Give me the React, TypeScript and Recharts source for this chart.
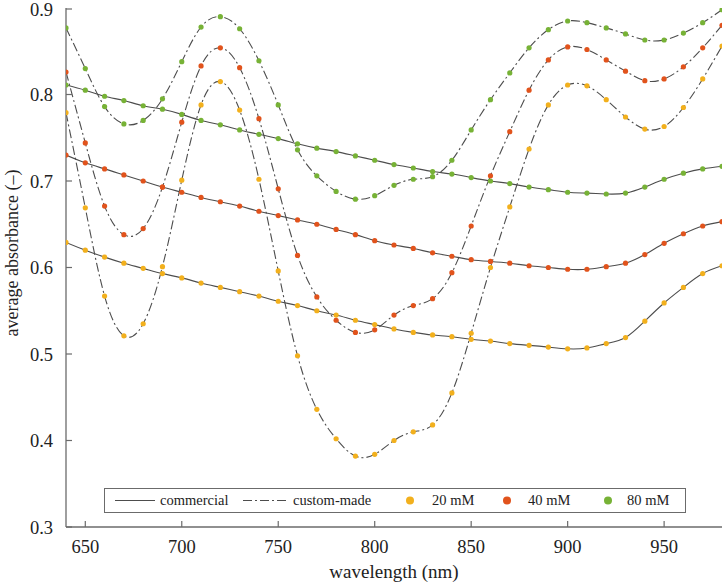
import { LineChart, Line, XAxis, YAxis } from "recharts";

const wavelengths = [
  640, 650, 660, 670, 680, 690, 700, 710, 720, 730, 740, 750, 760, 770, 780, 790, 800, 810,
  820, 830, 840, 850, 860, 870, 880, 890, 900, 910, 920, 930, 940, 950, 960, 970, 980,
];

// commercial (solid)
const commercial20 = [
  0.629, 0.62, 0.612, 0.605, 0.599, 0.593, 0.588, 0.582, 0.577, 0.572, 0.567, 0.561, 0.556,
  0.55, 0.545, 0.539, 0.534, 0.529, 0.525, 0.522, 0.52, 0.517, 0.515, 0.512, 0.51, 0.508,
  0.506, 0.507, 0.512, 0.519, 0.538, 0.559, 0.577, 0.593, 0.602,
];
const commercial40 = [
  0.73, 0.721, 0.714, 0.707, 0.7, 0.693, 0.687, 0.681, 0.676, 0.671, 0.665, 0.66, 0.655,
  0.65, 0.644, 0.638, 0.631, 0.626, 0.622, 0.617, 0.613, 0.609, 0.607, 0.605, 0.602, 0.6,
  0.598, 0.598, 0.601, 0.605, 0.615, 0.628, 0.639, 0.648, 0.653,
];
const commercial80 = [
  0.811, 0.805, 0.798, 0.793, 0.787, 0.783, 0.777, 0.77, 0.765, 0.759, 0.754, 0.749, 0.743,
  0.738, 0.734, 0.729, 0.724, 0.719, 0.715, 0.711, 0.708, 0.704, 0.7, 0.697, 0.693, 0.69,
  0.687, 0.686, 0.685, 0.686, 0.693, 0.702, 0.709, 0.714, 0.717,
];

// custom-made (dash-dot)
const custom20 = [
  0.779, 0.669, 0.567, 0.521, 0.535, 0.601, 0.701, 0.788, 0.815, 0.782, 0.702, 0.596, 0.498,
  0.436, 0.402, 0.382, 0.384, 0.4, 0.41, 0.418, 0.455, 0.524, 0.6, 0.67, 0.737, 0.788,
  0.811, 0.81, 0.794, 0.774, 0.76, 0.763, 0.785, 0.818, 0.856,
];
const custom40 = [
  0.826, 0.744, 0.671, 0.638, 0.645, 0.693, 0.768, 0.833, 0.854, 0.831, 0.772, 0.691, 0.614,
  0.566, 0.539, 0.525, 0.528, 0.545, 0.556, 0.564, 0.594, 0.648, 0.706, 0.757, 0.805, 0.84,
  0.855, 0.852, 0.84, 0.827, 0.816, 0.818, 0.832, 0.854, 0.88,
];
const custom80 = [
  0.877, 0.83, 0.786, 0.766, 0.77, 0.795, 0.838, 0.878, 0.89, 0.876, 0.839, 0.788, 0.736,
  0.706, 0.688, 0.679, 0.683, 0.695, 0.702, 0.705, 0.724, 0.759, 0.794, 0.825, 0.854, 0.875,
  0.885, 0.883, 0.877, 0.87, 0.863, 0.863, 0.871, 0.883, 0.898,
];

const xTicks = [650, 700, 750, 800, 850, 900, 950];
const yTicks = [0.3, 0.4, 0.5, 0.6, 0.7, 0.8, 0.9];

const YELLOW = "#f2b01d";
const RED = "#e1531c";
const GREEN = "#77b236";
const LINE = "#4d4d4d";
const AXIS = "#6b6b6b";
const FONT = "'Times New Roman', Tinos, 'Liberation Serif', 'DejaVu Serif', 'Noto Serif', serif";
const DASHDOT = "9 3 2 3";

const data = wavelengths.map((wl, i) => ({
  wl,
  c20: commercial20[i],
  c40: commercial40[i],
  c80: commercial80[i],
  m20: custom20[i],
  m40: custom40[i],
  m80: custom80[i],
}));

const series = [
  { key: "c20", color: YELLOW, dash: undefined },
  { key: "c40", color: RED, dash: undefined },
  { key: "c80", color: GREEN, dash: undefined },
  { key: "m20", color: YELLOW, dash: DASHDOT },
  { key: "m40", color: RED, dash: DASHDOT },
  { key: "m80", color: GREEN, dash: DASHDOT },
];

const XTick = ({ x, y, payload }: any) => (
  <g>
    <line x1={x} y1={y} x2={x} y2={y - 6} stroke={AXIS} strokeWidth={1.2} />
    <text x={x} y={y + 26} textAnchor="middle" fontSize={18.5} style={{ fontFamily: FONT }} fill="#222">
      {payload.value}
    </text>
  </g>
);

const YTick = ({ x, y, payload }: any) => (
  <g>
    <line x1={x} y1={y} x2={x + 6} y2={y} stroke={AXIS} strokeWidth={1.2} />
    <text x={x - 13} y={y + 6.5} textAnchor="end" fontSize={18.5} style={{ fontFamily: FONT }} fill="#222">
      {Number(payload.value).toFixed(1)}
    </text>
  </g>
);

const LegendBox = () => (
  <svg
    width={582}
    height={25}
    style={{ position: "absolute", left: 104, top: 488, fontFamily: FONT }}
    fontSize={14.5}
  >
    <rect x={0.5} y={0.5} width={581} height={24} fill="#fff" stroke={AXIS} strokeWidth={1} />
    <line x1={11} y1={12.5} x2={51} y2={12.5} stroke={LINE} strokeWidth={1.2} />
    <text x={56} y={17} fill="#222">commercial</text>
    <line x1={139} y1={12.5} x2={185} y2={12.5} stroke={LINE} strokeWidth={1.2} strokeDasharray={DASHDOT} />
    <text x={189} y={17} fill="#222">custom-made</text>
    <circle cx={306} cy={12.5} r={4} fill={YELLOW} />
    <text x={328} y={17} fill="#222">20 mM</text>
    <circle cx={403} cy={12.5} r={4} fill={RED} />
    <text x={424} y={17} fill="#222">40 mM</text>
    <circle cx={504} cy={12.5} r={4} fill={GREEN} />
    <text x={523} y={17} fill="#222">80 mM</text>
  </svg>
);

export default function App() {
  return (
    <div style={{ position: "absolute", left: 0, top: 0, width: 726, height: 583, background: "#fff" }}>
      <LineChart width={726} height={583} data={data} margin={{ top: 8, right: 4, left: 0, bottom: 0 }}>
        <XAxis
          dataKey="wl"
          type="number"
          domain={[640, 980]}
          ticks={xTicks}
          allowDataOverflow
          height={56}
          tickLine={false}
          tickSize={0}
          tickMargin={0}
          tick={<XTick />}
          stroke={AXIS}
          strokeWidth={1.3}
        />
        <YAxis
          type="number"
          domain={[0.3, 0.9]}
          ticks={yTicks}
          allowDataOverflow
          width={66}
          tickLine={false}
          tickSize={0}
          tickMargin={0}
          tick={<YTick />}
          stroke={AXIS}
          strokeWidth={1.3}
        />
        {series.map((s) => (
          <Line
            key={s.key}
            dataKey={s.key}
            type="natural"
            stroke={LINE}
            strokeWidth={1.1}
            strokeDasharray={s.dash}
            dot={{ r: 2.6, fill: s.color, stroke: "none", strokeWidth: 0, strokeDasharray: "" }}
            activeDot={false}
            isAnimationActive={false}
          />
        ))}
      </LineChart>
      <LegendBox />
      <svg
        width={726}
        height={583}
        style={{ position: "absolute", left: 0, top: 0, pointerEvents: "none", fontFamily: FONT }}
      >
        <text x={394} y={578} textAnchor="middle" fontSize={19} fill="#222">
          wavelength (nm)
        </text>
        <text
          x={0}
          y={0}
          transform="translate(18, 253) rotate(-90)"
          textAnchor="middle"
          fontSize={18}
          fill="#222"
        >
          average absorbance (–)
        </text>
      </svg>
    </div>
  );
}
